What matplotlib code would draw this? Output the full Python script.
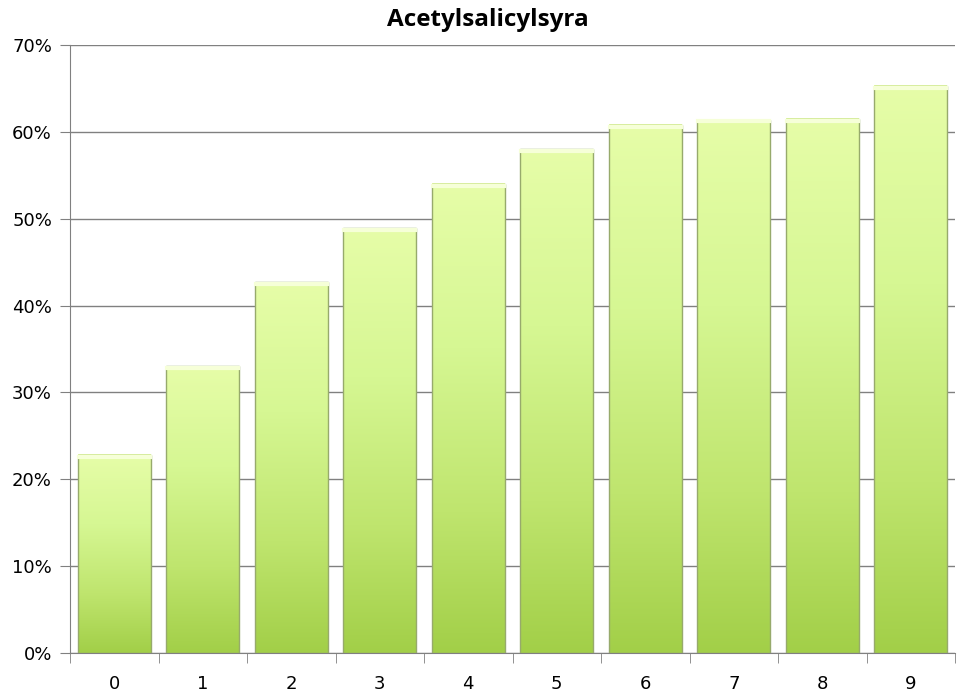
import numpy as np
import matplotlib
matplotlib.use("Agg")
import matplotlib.pyplot as plt
from matplotlib.colors import LinearSegmentedColormap

plt.rcParams['font.family'] = ['DejaVu Sans']

# -----------------------------
# Data
# -----------------------------
categories = ["0", "1", "2", "3", "4", "5", "6", "7", "8", "9"]
values = [22.8, 33.0, 42.7, 48.9, 54.0, 58.0, 60.8, 61.4, 61.5, 65.3]
title = "Acetylsalicylsyra"

# -----------------------------
# Plot
# -----------------------------
fig = plt.figure(figsize=(9.6, 6.98), dpi=100)
ax = fig.add_axes([70 / 960, 45 / 698, 885 / 960, 608 / 698])

x = np.arange(len(categories))
width = 0.82
bars = ax.bar(x, values, width=width, color="none", edgecolor="#97aa6c",
              linewidth=1.0, zorder=3)

# vertical gradient fill for each bar
cmap = LinearSegmentedColormap.from_list(
    "bar_grad", [(0.0, "#a2cf48"), (0.3, "#bfe56e"), (0.65, "#d6f793"), (1.0, "#e6fda8")])
grad = np.linspace(0, 1, 256).reshape(-1, 1)
for b in bars:
    x0, y0 = b.get_x(), b.get_y()
    w, h = b.get_width(), b.get_height()
    ax.imshow(grad, cmap=cmap, aspect="auto", origin="lower",
              extent=[x0, x0 + w, y0, y0 + h], zorder=2)
    # light highlight on top edge
    ax.plot([x0 + 0.01, x0 + w - 0.01], [y0 + h - 0.2, y0 + h - 0.2],
            color="#f6ffd8", lw=3, zorder=4)

ax.set_xlim(-0.5, len(categories) - 0.5)
ax.set_ylim(0, 70)
ax.set_yticks(np.arange(0, 71, 10))
ax.set_yticklabels([f"{v}%" for v in range(0, 71, 10)])
ax.set_xticks(x)
ax.set_xticklabels(categories)
ax.set_xticks(np.arange(-0.5, len(categories), 1), minor=True)
ax.tick_params(axis="x", which="major", length=0, pad=16, labelsize=13)
ax.tick_params(axis="x", which="minor", length=7, color="#808080", direction="out")
ax.tick_params(axis="y", length=7, color="#808080", labelsize=13, pad=6)

ax.grid(axis="y", color="#808080", linewidth=1, zorder=0)
ax.set_axisbelow(True)
for side in ["top", "right"]:
    ax.spines[side].set_visible(False)
ax.spines["left"].set_color("#808080")
ax.spines["bottom"].set_color("#808080")

fig.text(488 / 960, 1 - 20 / 698, title, ha="center", va="center",
         fontsize=17.5, fontweight="bold", family=["Open Sans", "DejaVu Sans"])

fig.savefig("out.png", dpi=100)
